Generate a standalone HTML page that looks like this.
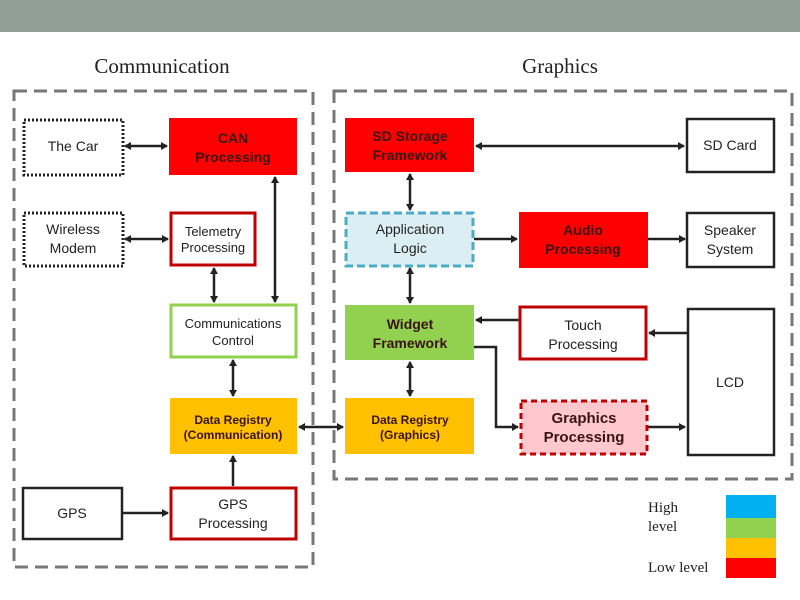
<!DOCTYPE html>
<html><head><style>
html,body{margin:0;padding:0;background:#fff;}
svg{display:block;}
text{font-family:"Liberation Sans",sans-serif;font-size:14px;fill:#222;text-anchor:middle;}
.b{font-weight:bold;fill:#3a1414;}
.s{font-family:"Liberation Serif",serif;}
</style></head><body>
<svg width="800" height="600" viewBox="0 0 800 600" xmlns="http://www.w3.org/2000/svg">
<defs>
<marker id="a" markerWidth="8" markerHeight="8" refX="6" refY="4" orient="auto-start-reverse" markerUnits="userSpaceOnUse">
<path d="M0,0 L7,4 L0,8 z" fill="#222"/></marker>
</defs>
<rect x="0" y="0" width="800" height="32" fill="#929f97"/>
<text class="s" x="162" y="73" style="font-size:21px">Communication</text>
<text class="s" x="560" y="73" style="font-size:21px">Graphics</text>
<rect x="14" y="91" width="299" height="476" fill="none" stroke="#777" stroke-width="3" stroke-dasharray="13,7"/>
<rect x="334" y="91" width="458" height="388" fill="none" stroke="#777" stroke-width="3" stroke-dasharray="13,7"/>

<g stroke="#222" stroke-width="2.5" fill="none">
<line x1="125" y1="146" x2="167" y2="146" marker-start="url(#a)" marker-end="url(#a)"/>
<line x1="125" y1="239" x2="168" y2="239" marker-start="url(#a)" marker-end="url(#a)"/>
<line x1="275" y1="177" x2="275" y2="302" marker-start="url(#a)" marker-end="url(#a)"/>
<line x1="214" y1="268" x2="214" y2="302" marker-start="url(#a)" marker-end="url(#a)"/>
<line x1="233" y1="360" x2="233" y2="396" marker-start="url(#a)" marker-end="url(#a)"/>
<line x1="233" y1="486" x2="233" y2="456" marker-end="url(#a)"/>
<line x1="123" y1="513" x2="168" y2="513" marker-end="url(#a)"/>
<line x1="299" y1="427" x2="343" y2="427" marker-start="url(#a)" marker-end="url(#a)"/>
<line x1="476" y1="146" x2="684" y2="146" marker-start="url(#a)" marker-end="url(#a)"/>
<line x1="410" y1="174" x2="410" y2="210" marker-start="url(#a)" marker-end="url(#a)"/>
<line x1="410" y1="268" x2="410" y2="303" marker-start="url(#a)" marker-end="url(#a)"/>
<line x1="474" y1="239" x2="517" y2="239" marker-end="url(#a)"/>
<line x1="648" y1="239" x2="685" y2="239" marker-end="url(#a)"/>
<line x1="410" y1="362" x2="410" y2="396" marker-start="url(#a)" marker-end="url(#a)"/>
<line x1="519" y1="320" x2="476" y2="320" marker-end="url(#a)"/>
<polyline points="474,347 496,347 496,427 518,427" marker-end="url(#a)"/>
<line x1="647" y1="427" x2="685" y2="427" marker-end="url(#a)"/>
<line x1="687" y1="333" x2="649" y2="333" marker-end="url(#a)"/>
</g>

<rect x="24" y="120" width="99" height="55" fill="#fff" stroke="#222" stroke-width="3" stroke-dasharray="2,2"/>
<text x="73" y="151">The Car</text>
<rect x="169" y="118" width="128" height="57" fill="#ff0000"/>
<text class="b" x="233" y="143">CAN</text><text class="b" x="233" y="162">Processing</text>
<rect x="24" y="213" width="99" height="53" fill="#fff" stroke="#222" stroke-width="3" stroke-dasharray="2,2"/>
<text x="73" y="234">Wireless</text><text x="73" y="253">Modem</text>
<rect x="171" y="213" width="84" height="52" fill="#fff" stroke="#c00000" stroke-width="3"/>
<text x="213" y="236" style="font-size:13px">Telemetry</text><text x="213" y="252" style="font-size:13px">Processing</text>
<rect x="171" y="305" width="125" height="52" fill="#fff" stroke="#92d050" stroke-width="3"/>
<text x="233" y="328" style="font-size:13px">Communications</text><text x="233" y="345" style="font-size:13px">Control</text>
<rect x="170" y="398" width="127" height="56" fill="#ffc000"/>
<text class="b" x="233" y="424" style="font-size:12px">Data Registry</text><text class="b" x="233" y="439" style="font-size:12px">(Communication)</text>
<rect x="23" y="488" width="99" height="51" fill="#fff" stroke="#222" stroke-width="2.5"/>
<text x="72" y="518">GPS</text>
<rect x="171" y="488" width="125" height="51" fill="#fff" stroke="#c00000" stroke-width="3"/>
<text x="233" y="509">GPS</text><text x="233" y="528">Processing</text>

<rect x="345" y="118" width="129" height="54" fill="#ff0000"/>
<text class="b" x="410" y="141">SD Storage</text><text class="b" x="410" y="160">Framework</text>
<rect x="687" y="119" width="87" height="53" fill="#fff" stroke="#222" stroke-width="2.5"/>
<text x="730" y="150">SD Card</text>
<rect x="346" y="213" width="127" height="53" fill="#dbeef4" stroke="#4bacc6" stroke-width="3" stroke-dasharray="8,4"/>
<text x="410" y="234">Application</text><text x="410" y="253">Logic</text>
<rect x="519" y="212" width="129" height="56" fill="#ff0000"/>
<text class="b" x="583" y="235">Audio</text><text class="b" x="583" y="254">Processing</text>
<rect x="687" y="213" width="87" height="54" fill="#fff" stroke="#222" stroke-width="2.5"/>
<text x="730" y="235">Speaker</text><text x="730" y="254">System</text>
<rect x="345" y="305" width="129" height="55" fill="#92d050"/>
<text class="b" x="410" y="329">Widget</text><text class="b" x="410" y="348">Framework</text>
<rect x="520" y="307" width="126" height="52" fill="#fff" stroke="#c00000" stroke-width="3"/>
<text x="583" y="330">Touch</text><text x="583" y="349">Processing</text>
<rect x="688" y="309" width="86" height="146" fill="#fff" stroke="#222" stroke-width="2.5"/>
<text x="730" y="387">LCD</text>
<rect x="345" y="398" width="129" height="56" fill="#ffc000"/>
<text class="b" x="410" y="424" style="font-size:12px">Data Registry</text><text class="b" x="410" y="439" style="font-size:12px">(Graphics)</text>
<rect x="521" y="401" width="126" height="53" fill="#ffc7ce" stroke="#c00000" stroke-width="3" stroke-dasharray="6,4"/>
<text class="b" x="584" y="423" style="font-size:15px">Graphics</text><text class="b" x="584" y="442" style="font-size:15px">Processing</text>

<text class="s" x="648" y="512" style="text-anchor:start;font-size:15px">High</text>
<text class="s" x="648" y="531" style="text-anchor:start;font-size:15px">level</text>
<text class="s" x="648" y="572" style="text-anchor:start;font-size:15px">Low level</text>
<rect x="726" y="495" width="50" height="23" fill="#00b0f0"/>
<rect x="726" y="518" width="50" height="20" fill="#92d050"/>
<rect x="726" y="538" width="50" height="20" fill="#ffc000"/>
<rect x="726" y="558" width="50" height="20" fill="#ff0000"/>
</svg>
</body></html>
